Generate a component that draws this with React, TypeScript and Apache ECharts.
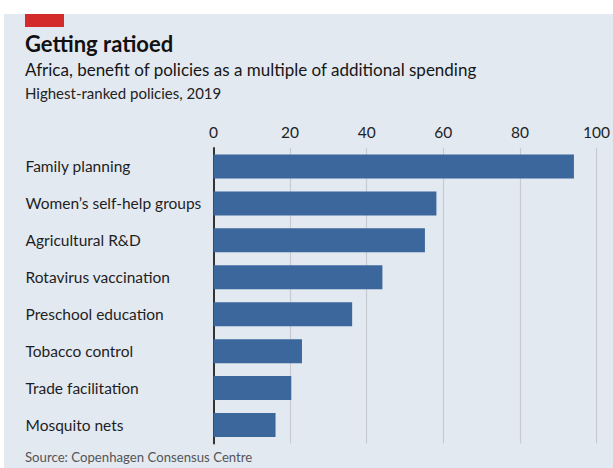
import React, { useEffect, useRef } from "react";
import * as echarts from "echarts";

const categories = [
  "Family planning",
  "Women’s self-help groups",
  "Agricultural R&D",
  "Rotavirus vaccination",
  "Preschool education",
  "Tobacco control",
  "Trade facilitation",
  "Mosquito nets",
];
const values = [94.1, 58.2, 55.2, 44.1, 36.2, 23.1, 20.3, 16.2];
const xTicks = [0, 20, 40, 60, 80, 100];

const FONT = "Lato, 'Open Sans', sans-serif";

export default function App() {
  const ref = useRef<HTMLDivElement>(null);
  useEffect(() => {
    document.body.style.margin = "0";
    const chart = echarts.init(ref.current!, undefined, { renderer: "svg" });
    chart.setOption({
      animation: false,
      backgroundColor: "#ffffff",
      graphic: [
        { type: "rect", left: 4, top: 14, shape: { width: 609, height: 454 }, style: { fill: "#e3e9f1" }, z: -10 },
        { type: "rect", left: 25, top: 14, shape: { width: 39, height: 13 }, style: { fill: "#d32a2c" } },
        { type: "text", left: 25, top: 32, style: { text: "Getting ratioed", font: `bold 22px ${FONT}`, fill: "#111111" } },
        { type: "text", left: 25, top: 61, style: { text: "Africa, benefit of policies as a multiple of additional spending", font: `17px ${FONT}`, fill: "#161616" } },
        { type: "text", left: 25, top: 85, style: { text: "Highest-ranked policies, 2019", font: `15px ${FONT}`, fill: "#222222" } },
        { type: "text", left: 25, top: 450, style: { text: "Source: Copenhagen Consensus Centre", font: `13.2px ${FONT}`, fill: "#555555" } },
      ],
      grid: { left: 213.5, right: 12, top: 148, bottom: 24.5 },
      xAxis: {
        type: "value",
        position: "top",
        min: 0,
        max: 100,
        interval: 20,
        axisLine: { show: false },
        axisTick: { show: false },
        axisLabel: {
          margin: 8,
          fontSize: 15.5,
          fontFamily: FONT,
          color: "#222222",
          formatter: (v: number) => (xTicks.includes(v) ? String(v) : ""),
        },
        splitLine: { show: true, lineStyle: { color: "#c6cbd2", width: 1.2 } },
      },
      yAxis: {
        type: "category",
        data: categories,
        inverse: true,
        axisLine: { show: true, lineStyle: { color: "#333333", width: 2 } },
        axisTick: { show: false },
        axisLabel: {
          align: "left",
          margin: 188,
          fontSize: 15.5,
          fontFamily: FONT,
          color: "#1e1e1e",
        },
      },
      series: [
        {
          type: "bar",
          data: values,
          barWidth: 24,
          itemStyle: { color: "#3b679c" },
          z: 1,
        },
      ],
    });
    return () => chart.dispose();
  }, []);
  return <div ref={ref} style={{ position: "absolute", left: 0, top: 0, width: 613, height: 468 }} />;
}
